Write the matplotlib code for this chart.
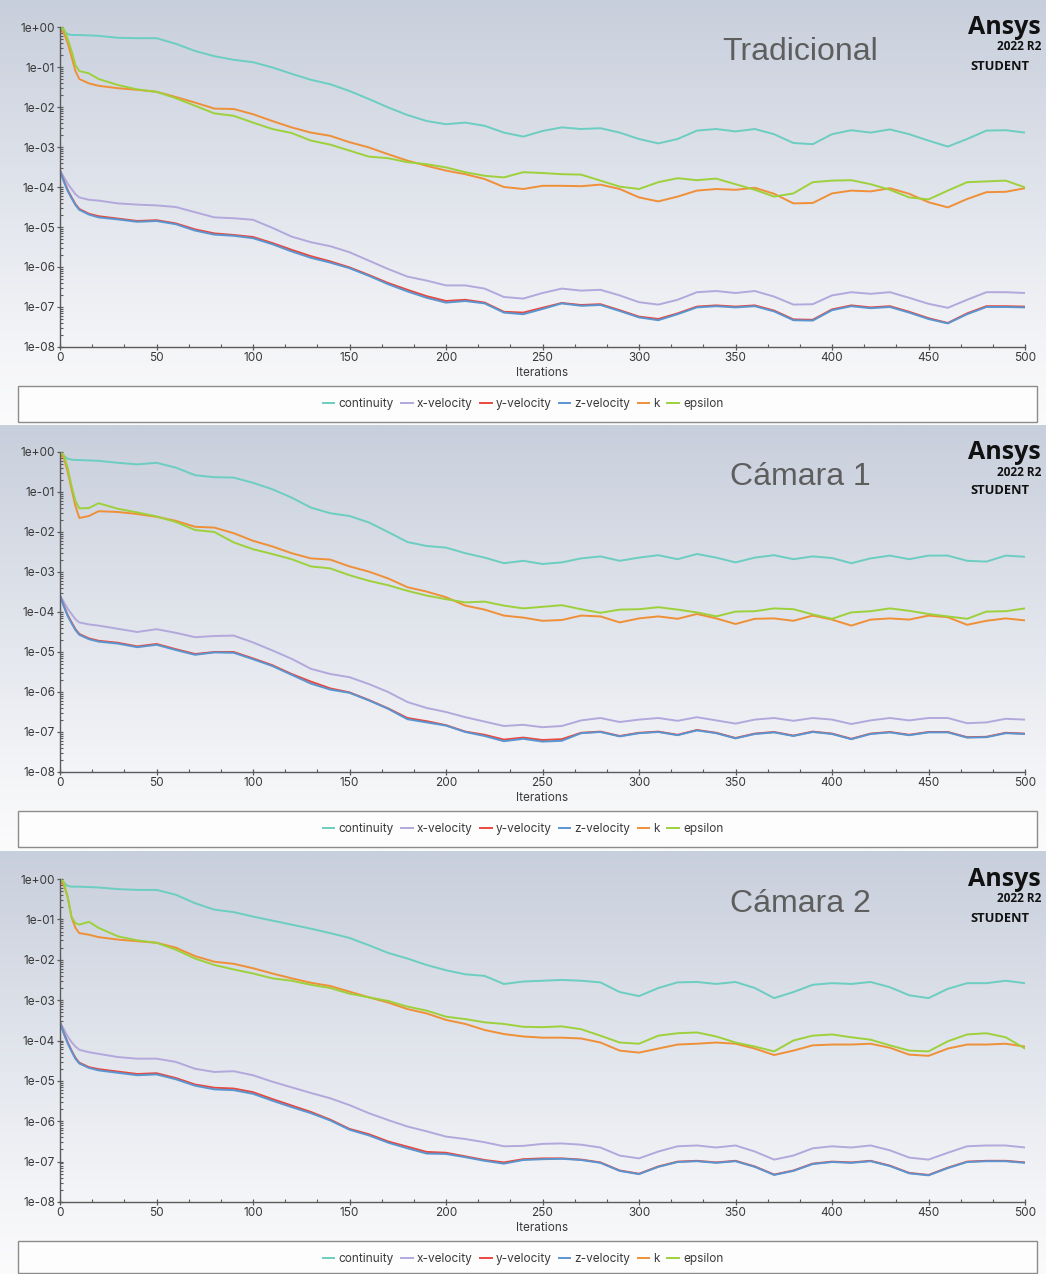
import numpy as np
import matplotlib
matplotlib.use("Agg")
import matplotlib.pyplot as plt
from matplotlib.lines import Line2D
from matplotlib.patches import Rectangle
from matplotlib.ticker import FixedLocator, FuncFormatter, MultipleLocator, NullFormatter

# ---------------------------------------------------------------------------
# Scaled residuals (log10 of the residual) sampled along the iteration axis
# ---------------------------------------------------------------------------
iterations = [0, 2, 4, 6, 8, 10, 15, 20] + list(range(30, 501, 10))

series_names = ["continuity", "x-velocity", "y-velocity", "z-velocity", "k", "epsilon"]
panel_titles = ["Tradicional", "Cámara 1", "Cámara 2"]

# --- Tradicional ---
trad_continuity = [-0.02, -0.10, -0.18, -0.20, -0.20, -0.20, -0.21, -0.22, -0.27, -0.28, -0.28, -0.42, -0.60, -0.73,
                   -0.82, -0.88, -1.01, -1.17, -1.32, -1.43, -1.60, -1.80, -2.01, -2.20, -2.35, -2.43, -2.39, -2.47,
                   -2.64, -2.74, -2.60, -2.51, -2.55, -2.53, -2.64, -2.80, -2.91, -2.80, -2.59, -2.55, -2.61, -2.55,
                   -2.68, -2.90, -2.93, -2.68, -2.58, -2.64, -2.56, -2.68, -2.84, -2.99, -2.80, -2.59, -2.58, -2.64]
trad_xvel = [-3.59, -3.75, -3.92, -4.05, -4.18, -4.26, -4.32, -4.34, -4.41, -4.44, -4.46, -4.50, -4.63, -4.76,
             -4.78, -4.82, -5.02, -5.24, -5.38, -5.48, -5.63, -5.84, -6.05, -6.24, -6.34, -6.46, -6.46, -6.54,
             -6.75, -6.79, -6.65, -6.54, -6.59, -6.57, -6.71, -6.88, -6.94, -6.82, -6.63, -6.60, -6.65, -6.60,
             -6.74, -6.94, -6.93, -6.71, -6.63, -6.67, -6.63, -6.77, -6.92, -7.02, -6.82, -6.63, -6.63, -6.65]
trad_yvel = [-3.59, -3.85, -4.08, -4.26, -4.43, -4.55, -4.67, -4.73, -4.79, -4.85, -4.83, -4.91, -5.06, -5.16,
             -5.20, -5.25, -5.40, -5.57, -5.73, -5.86, -6.01, -6.20, -6.40, -6.57, -6.73, -6.85, -6.82, -6.89,
             -7.12, -7.14, -7.02, -6.90, -6.95, -6.93, -7.08, -7.24, -7.30, -7.16, -6.99, -6.96, -6.99, -6.96,
             -7.09, -7.31, -7.32, -7.06, -6.96, -7.01, -6.98, -7.12, -7.28, -7.40, -7.16, -6.98, -6.98, -6.99]
trad_zvel = [-3.59, -3.86, -4.10, -4.28, -4.45, -4.57, -4.69, -4.76, -4.81, -4.87, -4.85, -4.93, -5.09, -5.19,
             -5.22, -5.28, -5.43, -5.61, -5.77, -5.89, -6.03, -6.22, -6.43, -6.61, -6.77, -6.89, -6.85, -6.91,
             -7.14, -7.18, -7.05, -6.91, -6.97, -6.95, -7.10, -7.26, -7.33, -7.18, -7.01, -6.98, -7.01, -6.98,
             -7.11, -7.33, -7.34, -7.08, -6.98, -7.03, -7.00, -7.14, -7.30, -7.41, -7.18, -7.00, -7.00, -7.01]
trad_k = [-0.05, -0.15, -0.40, -0.75, -1.10, -1.30, -1.41, -1.47, -1.53, -1.57, -1.62, -1.75, -1.89, -2.04,
          -2.05, -2.18, -2.35, -2.51, -2.64, -2.72, -2.88, -3.01, -3.18, -3.34, -3.47, -3.59, -3.68, -3.80,
          -4.00, -4.05, -3.97, -3.97, -3.98, -3.94, -4.05, -4.26, -4.36, -4.24, -4.09, -4.05, -4.07, -4.02,
          -4.17, -4.41, -4.40, -4.16, -4.09, -4.11, -4.03, -4.17, -4.38, -4.51, -4.30, -4.13, -4.12, -4.03]
trad_eps = [0.00, -0.05, -0.30, -0.60, -0.95, -1.10, -1.16, -1.30, -1.45, -1.56, -1.62, -1.78, -1.97, -2.16,
            -2.22, -2.39, -2.55, -2.65, -2.84, -2.94, -3.09, -3.24, -3.28, -3.38, -3.43, -3.51, -3.63, -3.72,
            -3.76, -3.63, -3.65, -3.68, -3.69, -3.84, -3.99, -4.05, -3.88, -3.78, -3.83, -3.79, -3.93, -4.07,
            -4.24, -4.16, -3.88, -3.84, -3.83, -3.93, -4.07, -4.26, -4.31, -4.09, -3.88, -3.86, -3.84, -4.01]

# --- Cámara 1 ---
cam1_continuity = [-0.02, -0.10, -0.17, -0.19, -0.20, -0.20, -0.21, -0.22, -0.27, -0.31, -0.27, -0.39, -0.58, -0.63,
                   -0.64, -0.77, -0.93, -1.14, -1.39, -1.53, -1.60, -1.76, -2.00, -2.25, -2.35, -2.39, -2.53, -2.64,
                   -2.78, -2.72, -2.80, -2.76, -2.66, -2.61, -2.72, -2.64, -2.58, -2.68, -2.55, -2.64, -2.76, -2.64,
                   -2.58, -2.68, -2.61, -2.65, -2.78, -2.66, -2.59, -2.68, -2.59, -2.59, -2.72, -2.74, -2.59, -2.62]
cam1_xvel = [-3.59, -3.75, -3.92, -4.05, -4.18, -4.26, -4.31, -4.34, -4.42, -4.50, -4.43, -4.52, -4.63, -4.60,
             -4.59, -4.76, -4.96, -5.17, -5.42, -5.55, -5.63, -5.80, -6.00, -6.25, -6.40, -6.50, -6.63, -6.74,
             -6.85, -6.82, -6.88, -6.85, -6.71, -6.65, -6.75, -6.69, -6.65, -6.72, -6.63, -6.71, -6.79, -6.69,
             -6.65, -6.72, -6.65, -6.69, -6.80, -6.71, -6.65, -6.71, -6.65, -6.65, -6.78, -6.76, -6.67, -6.69]
cam1_yvel = [-3.59, -3.85, -4.08, -4.26, -4.43, -4.55, -4.66, -4.72, -4.77, -4.86, -4.80, -4.93, -5.05, -5.00,
             -5.00, -5.16, -5.33, -5.55, -5.74, -5.91, -6.01, -6.20, -6.41, -6.65, -6.73, -6.83, -6.99, -7.07,
             -7.19, -7.14, -7.20, -7.18, -7.02, -6.99, -7.10, -7.02, -6.99, -7.07, -6.95, -7.02, -7.15, -7.04,
             -7.00, -7.09, -6.99, -7.04, -7.17, -7.04, -7.00, -7.07, -7.00, -7.00, -7.13, -7.12, -7.02, -7.04]
cam1_zvel = [-3.59, -3.86, -4.10, -4.28, -4.45, -4.57, -4.68, -4.74, -4.79, -4.88, -4.82, -4.95, -5.07, -5.01,
             -5.02, -5.18, -5.35, -5.57, -5.79, -5.94, -6.02, -6.21, -6.42, -6.68, -6.76, -6.84, -7.00, -7.10,
             -7.23, -7.17, -7.24, -7.22, -7.03, -7.00, -7.11, -7.03, -7.00, -7.08, -6.96, -7.03, -7.16, -7.05,
             -7.01, -7.10, -7.00, -7.05, -7.18, -7.05, -7.01, -7.08, -7.01, -7.01, -7.14, -7.13, -7.03, -7.05]
cam1_k = [-0.05, -0.15, -0.50, -0.93, -1.35, -1.65, -1.60, -1.48, -1.50, -1.55, -1.62, -1.72, -1.87, -1.89,
          -2.03, -2.22, -2.36, -2.53, -2.66, -2.69, -2.86, -2.99, -3.16, -3.38, -3.49, -3.63, -3.84, -3.94,
          -4.09, -4.14, -4.22, -4.20, -4.09, -4.11, -4.26, -4.16, -4.11, -4.17, -4.05, -4.16, -4.30, -4.17,
          -4.16, -4.22, -4.09, -4.19, -4.34, -4.19, -4.16, -4.19, -4.09, -4.13, -4.32, -4.22, -4.16, -4.21]
cam1_eps = [0.00, -0.08, -0.40, -0.85, -1.22, -1.41, -1.40, -1.28, -1.42, -1.51, -1.61, -1.75, -1.95, -2.00,
            -2.26, -2.43, -2.55, -2.68, -2.86, -2.91, -3.08, -3.22, -3.33, -3.47, -3.59, -3.68, -3.76, -3.74,
            -3.84, -3.91, -3.87, -3.83, -3.93, -4.02, -3.94, -3.93, -3.88, -3.94, -4.01, -4.11, -3.99, -3.98,
            -3.91, -3.93, -4.06, -4.17, -4.01, -3.98, -3.91, -3.97, -4.05, -4.11, -4.17, -3.99, -3.98, -3.91]

# --- Cámara 2 ---
cam2_continuity = [-0.02, -0.10, -0.17, -0.19, -0.19, -0.19, -0.20, -0.21, -0.25, -0.27, -0.27, -0.39, -0.60, -0.76,
                   -0.82, -0.93, -1.03, -1.13, -1.23, -1.34, -1.46, -1.64, -1.83, -1.97, -2.13, -2.26, -2.36, -2.40,
                   -2.60, -2.54, -2.52, -2.50, -2.52, -2.56, -2.80, -2.90, -2.70, -2.56, -2.55, -2.60, -2.55, -2.70,
                   -2.95, -2.80, -2.62, -2.58, -2.60, -2.55, -2.68, -2.88, -2.95, -2.72, -2.58, -2.58, -2.52, -2.58]
cam2_xvel = [-3.55, -3.72, -3.90, -4.04, -4.15, -4.23, -4.29, -4.33, -4.41, -4.45, -4.45, -4.53, -4.70, -4.78,
             -4.76, -4.86, -5.02, -5.16, -5.30, -5.43, -5.60, -5.80, -5.97, -6.13, -6.25, -6.38, -6.44, -6.52,
             -6.62, -6.61, -6.56, -6.55, -6.58, -6.65, -6.85, -6.92, -6.75, -6.62, -6.60, -6.65, -6.60, -6.75,
             -6.95, -6.85, -6.67, -6.62, -6.65, -6.60, -6.72, -6.90, -6.95, -6.78, -6.62, -6.60, -6.60, -6.65]
cam2_yvel = [-3.55, -3.82, -4.05, -4.25, -4.43, -4.55, -4.66, -4.71, -4.77, -4.83, -4.81, -4.93, -5.09, -5.17,
             -5.19, -5.28, -5.45, -5.61, -5.77, -5.96, -6.19, -6.32, -6.50, -6.63, -6.76, -6.78, -6.87, -6.96,
             -7.02, -6.94, -6.92, -6.92, -6.95, -7.02, -7.22, -7.30, -7.12, -7.00, -6.98, -7.02, -6.98, -7.12,
             -7.32, -7.22, -7.05, -7.00, -7.02, -6.98, -7.10, -7.28, -7.33, -7.15, -7.00, -6.98, -6.98, -7.02]
cam2_zvel = [-3.55, -3.83, -4.07, -4.27, -4.45, -4.57, -4.68, -4.74, -4.80, -4.86, -4.84, -4.96, -5.12, -5.21,
             -5.23, -5.32, -5.49, -5.65, -5.80, -5.98, -6.21, -6.35, -6.53, -6.67, -6.80, -6.81, -6.89, -6.98,
             -7.05, -6.96, -6.94, -6.93, -6.96, -7.03, -7.23, -7.31, -7.13, -7.01, -6.99, -7.03, -6.99, -7.13,
             -7.33, -7.23, -7.06, -7.01, -7.03, -6.99, -7.11, -7.29, -7.34, -7.16, -7.01, -6.99, -6.99, -7.03]
cam2_k = [-0.05, -0.15, -0.45, -0.95, -1.21, -1.34, -1.38, -1.44, -1.50, -1.54, -1.58, -1.70, -1.91, -2.05,
          -2.10, -2.21, -2.34, -2.46, -2.57, -2.65, -2.79, -2.93, -3.06, -3.22, -3.33, -3.49, -3.59, -3.74,
          -3.84, -3.90, -3.93, -3.93, -3.95, -4.05, -4.25, -4.30, -4.20, -4.10, -4.08, -4.05, -4.08, -4.20,
          -4.36, -4.25, -4.12, -4.10, -4.10, -4.08, -4.18, -4.35, -4.38, -4.20, -4.10, -4.10, -4.08, -4.15]
cam2_eps = [0.00, -0.08, -0.45, -0.95, -1.09, -1.13, -1.06, -1.21, -1.42, -1.52, -1.58, -1.75, -1.97, -2.13,
            -2.24, -2.34, -2.46, -2.52, -2.62, -2.70, -2.84, -2.93, -3.02, -3.16, -3.26, -3.41, -3.47, -3.55,
            -3.59, -3.66, -3.67, -3.65, -3.72, -3.88, -4.05, -4.08, -3.88, -3.82, -3.80, -3.90, -4.05, -4.15,
            -4.27, -4.00, -3.88, -3.85, -3.92, -3.98, -4.12, -4.25, -4.27, -4.02, -3.85, -3.82, -3.92, -4.20]

panel_series = [
    [trad_continuity, trad_xvel, trad_yvel, trad_zvel, trad_k, trad_eps],
    [cam1_continuity, cam1_xvel, cam1_yvel, cam1_zvel, cam1_k, cam1_eps],
    [cam2_continuity, cam2_xvel, cam2_yvel, cam2_zvel, cam2_k, cam2_eps],
]

series_colors = ["#6ccdc1", "#b3a8dc", "#e8483e", "#5a95d0", "#ef9038", "#9dd13c"]

# ---------------------------------------------------------------------------
# Layout (pixel based, figure is 1046 x 1274 px)
# ---------------------------------------------------------------------------
W, H = 1046, 1274
fig = plt.figure(figsize=(W / 100, H / 100), dpi=100)

panel_top = [0, 425, 851]
panel_bottom = [425, 851, 1274]
axes_top = [27, 452, 879]
axes_bottom = [347, 772, 1202]
ax_left, ax_right = 60, 1025


def fx(px):
    return px / W


def fy(py):
    return 1 - py / H


# vertical gradient backdrop for every panel
grad_pos = [0.0, 0.8, 1.0]
grad_cols = np.array([[200, 207, 220], [243, 244, 247], [251, 251, 252]]) / 255.0

for p in range(3):
    bg = fig.add_axes([0, fy(panel_bottom[p]), 1, (panel_bottom[p] - panel_top[p]) / H], zorder=0)
    t = np.linspace(0, 1, 256)
    img = np.stack([np.interp(t, grad_pos, grad_cols[:, c]) for c in range(3)], axis=-1)
    img = np.repeat(img[:, None, :], 4, axis=1)
    bg.imshow(img, aspect="auto", extent=[0, 1, 0, 1], origin="upper")
    bg.set_xlim(0, 1)
    bg.set_ylim(0, 1)
    bg.axis("off")

tick_font = "Inter"
minor_y = [m * 10.0 ** e for e in range(-8, 0) for m in range(2, 10)]

for p in range(3):
    ax = fig.add_axes([fx(ax_left), fy(axes_bottom[p]), fx(ax_right - ax_left),
                       (axes_bottom[p] - axes_top[p]) / H], zorder=2)
    ax.patch.set_alpha(0)
    for name, vals, col in zip(series_names, panel_series[p], series_colors):
        ax.plot(iterations, 10.0 ** np.asarray(vals), color=col, lw=1.4, label=name,
                solid_joinstyle="round", solid_capstyle="round")

    ax.set_yscale("log")
    ax.set_ylim(1e-8, 1e0)
    ax.set_xlim(0, 500)
    ax.yaxis.set_major_locator(FixedLocator([10.0 ** e for e in range(-8, 1)]))
    ax.yaxis.set_major_formatter(FuncFormatter(lambda v, pos: f"{v:.0e}"))
    ax.yaxis.set_minor_locator(FixedLocator(minor_y))
    ax.yaxis.set_minor_formatter(NullFormatter())
    ax.xaxis.set_major_locator(MultipleLocator(50))
    ax.xaxis.set_minor_locator(MultipleLocator(50 / 3))

    for side in ("top", "right"):
        ax.spines[side].set_visible(False)
    for side in ("left", "bottom"):
        ax.spines[side].set_color("#5a5a5a")
        ax.spines[side].set_linewidth(1.0)

    ax.tick_params(which="major", direction="inout", length=5, width=0.9, color="#5a5a5a",
                   labelsize=8.5, labelcolor="#3a3a3a", pad=1)
    ax.tick_params(which="minor", direction="in", length=2.5, width=0.8, color="#5a5a5a")
    for lab in ax.get_xticklabels() + ax.get_yticklabels():
        lab.set_fontfamily(tick_font)

    ax.set_xlabel("Iterations", fontsize=8.5, color="#3a3a3a", fontfamily=tick_font, labelpad=2)

    # panel heading and product badge
    fig.text(fx(800), fy(axes_top[p] + 25), panel_titles[p], fontsize=23, color="#5e5e5e",
             ha="center", va="center", fontfamily="Liberation Sans", zorder=3)
    fig.text(fx(1041), fy(axes_top[p] + 1), "Ansys", fontsize=18, fontweight="bold", color="#111111",
             ha="right", va="center", fontfamily="Open Sans", zorder=3)
    fig.text(fx(1041), fy(axes_top[p] + 20), "2022 R2", fontsize=8.5, fontweight="bold", color="#111111",
             ha="right", va="center", fontfamily="Open Sans", zorder=3)
    fig.text(fx(1029), fy(axes_top[p] + 39), "STUDENT", fontsize=9.3, fontweight="bold", color="#111111",
             ha="right", va="center", fontfamily="Open Sans", zorder=3)

    # legend frame
    box_top = axes_bottom[p] + 39
    box_bottom = min(box_top + 36, H - 1)
    fig.patches.append(Rectangle((fx(18), fy(box_bottom)), fx(1037 - 18), (box_bottom - box_top) / H,
                                 transform=fig.transFigure, facecolor="#fdfdfd", edgecolor="#8c8c8c",
                                 linewidth=1.0, zorder=1))
    handles = [Line2D([], [], color=c, lw=1.4) for c in series_colors]
    fig.legend(handles, series_names, loc="center", ncol=6,
               bbox_to_anchor=(fx(523), fy(box_top + 18)), frameon=False,
               prop={"family": tick_font, "size": 8.5}, labelcolor="#3a3a3a",
               handlelength=1.0, handletextpad=0.35, columnspacing=0.6, borderpad=0.0)

fig.savefig("out.png", dpi=100)
